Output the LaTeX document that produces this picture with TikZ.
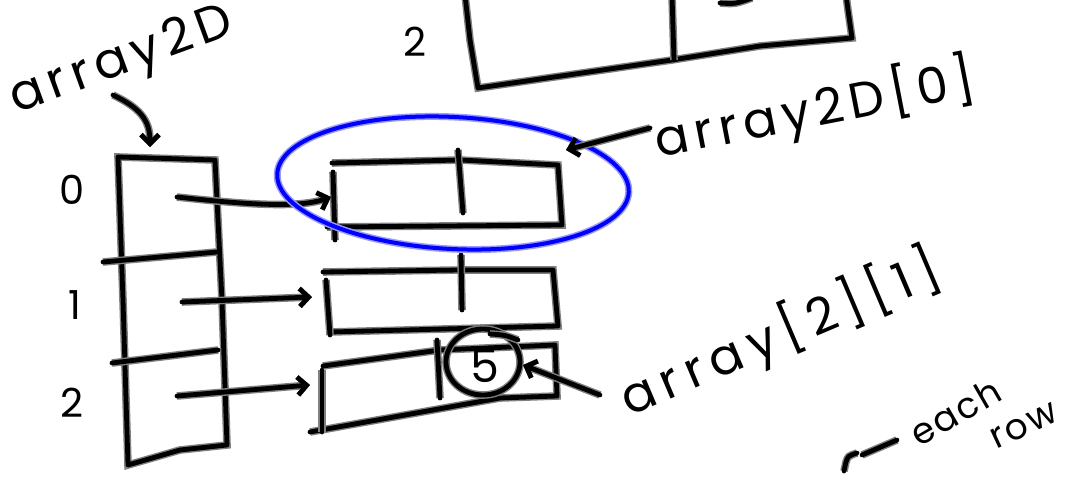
\documentclass[tikz,border=0pt]{standalone}
\usepackage{fontspec}
\setmainfont{Poppins}
\newfontfamily\wide[LetterSpace=12]{Poppins}
\newfontfamily\wider[LetterSpace=16]{Poppins}
\newfontfamily\narrowish[LetterSpace=6]{Poppins}
\usetikzlibrary{arrows.meta}
\tikzset{
  ink/.style={draw=black, line width=4.8pt, line cap=round, line join=round,
    preaction={draw=black!50, line width=7.6pt}},
  blueink/.style={draw=blue, line width=4pt, line cap=round,
    preaction={draw=blue!40, line width=7pt}},
  hand/.style={inner sep=0pt, text=black},
  conn/.style={ink, -{Straight Barb[length=9pt,width=18pt,line width=4.8pt]}},
  big/.style={font=\wide\fontsize{50}{50}\selectfont},
  bigger/.style={font=\wider\fontsize{50}{50}\selectfont},
  digit/.style={font=\fontsize{40}{40}\selectfont},
  small/.style={font=\narrowish\fontsize{36}{36}\selectfont}
}
\begin{document}
\begin{tikzpicture}[x=1pt,y=-1pt]
\useasboundingbox[fill=white] (0,0) rectangle (1074,477);

% top partial box
\draw[ink] (465,-5) -- (470,40) -- (478,88) -- (575,74) -- (672,60) -- (760,46) -- (852,38) -- (848,10) -- (846,-5);
\draw[ink] (672,-5) -- (674,60);
\draw[ink] (720,3) .. controls (735,4) .. (752,-2);
\node[hand,digit] (ltop) at (415,42) {2};

% array2D label
\node[hand,big,rotate=20] (lbl) at (122,62) {array2D};
\coordinate (ptop) at (150,147);
\draw[conn] (113,95) .. controls (140,108) and (150,120) .. (ptop);

% pointer array
\draw[ink] (118,157) -- (215,160) -- (222,300) -- (227,445) -- (180,450) -- (128,465) -- (123,300) -- cycle;
\draw[ink] (103,262) -- (217,252);
\draw[ink] (112,363) -- (218,350);
\node[hand,digit] (i0) at (72,190) {0};
\node[hand,digit] (i1) at (75,305) {1};
\node[hand,digit] (i2) at (72,403) {2};
\coordinate (p0) at (177,197);
\coordinate (p1) at (182,302);
\coordinate (p2) at (177,396);

% row 0
\draw[ink] (332,163) -- (460,160) -- (558,165) -- (562,225) -- (327,227);
\draw[ink] (333,172) -- (335,240);
\draw[ink] (458,150) -- (463,213);
\coordinate (r0) at (331,197);
\draw[conn] (p0) .. controls (250,205) and (300,208) .. (r0);

% row 1
\draw[ink] (323,272) -- (460,270) -- (553,270) -- (558,326) -- (330,332);
\draw[ink] (326,280) -- (330,335);
\draw[ink] (461,255) -- (462,310);
\coordinate (r1) at (312,297);
\draw[conn] (p1) -- (r1);

% row 2
\draw[ink] (323,366) -- (440,350) -- (555,345) -- (557,396) -- (500,398) -- (310,432);
\draw[ink] (322,370) -- (322,432);
\draw[ink] (437,340) -- (440,398);
\coordinate (r2) at (310,385);
\draw[conn] (p2) -- (r2);
\draw[ink] (483,362) ellipse [x radius=37, y radius=33];
\draw[ink] (490,334) .. controls (505,335) .. (518,340);
\node[hand,font=\fontsize{46}{46}\selectfont] (five) at (485,366) {5};

% blue ellipse
\draw[blueink, rotate around={-3:(453,183)}] (453,183) ellipse [x radius=176, y radius=66];

% labels with arrows
\node[hand,big,rotate=11] (lrow) at (815,110) {array2D[0]};
\coordinate (e0) at (566,150);
\draw[conn] (650,128) -- (e0);

\node[hand,bigger,rotate=23] (lcell) at (780,334) {array[2][1]};
\coordinate (c5) at (523,365);
\draw[conn] (600,395) -- (c5);

% each row
\node[hand,small,rotate=30] (leach) at (955,412) {each};
\node[hand,small,rotate=25] (lrw) at (1024,426) {row};
\draw[ink] (897,440) -- (862,455);
\draw[ink] (844,471) -- (846,462) .. controls (848,456) .. (857,453);
\end{tikzpicture}
\end{document}
